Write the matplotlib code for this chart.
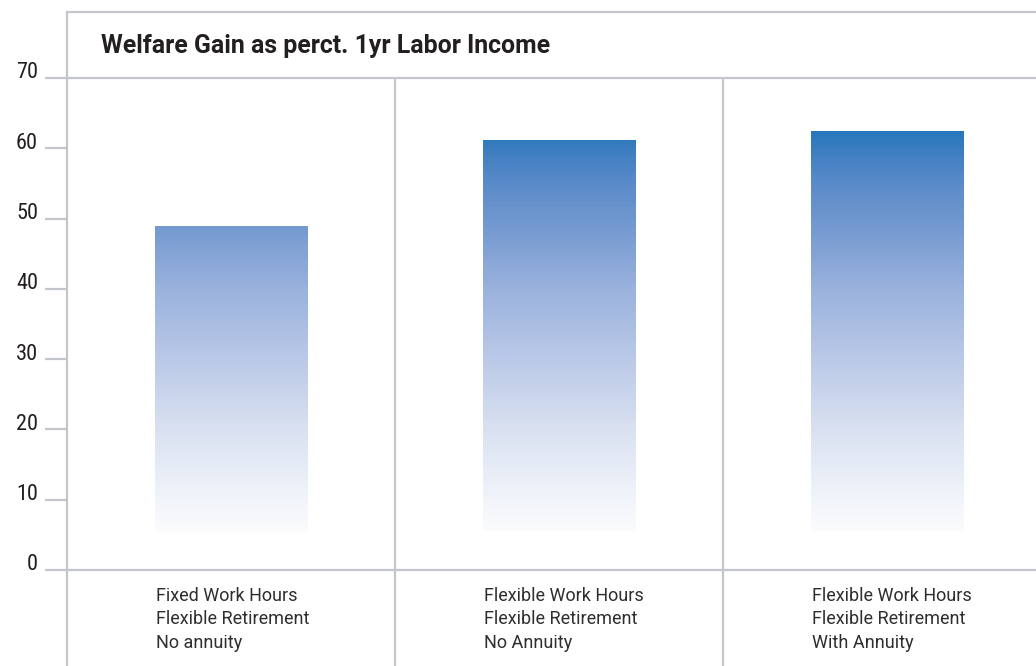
import matplotlib
matplotlib.use("Agg")
import matplotlib.pyplot as plt
import numpy as np
from matplotlib.colors import LinearSegmentedColormap
import matplotlib.transforms as mtransforms
from matplotlib import font_manager

# ---- data ----
categories = [
    "Fixed Work Hours\nFlexible Retirement\nNo annuity",
    "Flexible Work Hours\nFlexible Retirement\nNo Annuity",
    "Flexible Work Hours\nFlexible Retirement\nWith Annuity",
]
welfare_gain = [49.0, 61.2, 62.4]
y_ticks = [0, 10, 20, 30, 40, 50, 60, 70]
title = "Welfare Gain as perct. 1yr Labor Income"

# ---- fonts ----
avail = {f.name for f in font_manager.fontManager.ttflist}
narrow = "DejaVu Sans"
for cand in ["Roboto Condensed", "Fira Sans Condensed", "PT Sans Narrow",
             "Archivo Narrow", "Pragati Narrow", "Liberation Sans Narrow"]:
    if cand in avail:
        narrow = cand
        break
regular = "Roboto" if "Roboto" in avail else "DejaVu Sans"
plt.rcParams['font.family'] = [narrow, 'DejaVu Sans']

W, H = 1036, 666
fig = plt.figure(figsize=(W / 100, H / 100), dpi=100)
fig.patch.set_facecolor("white")

ax_left_px, ax_bottom_px, ax_top_px = 67, 570, 78
ax = fig.add_axes([ax_left_px / W, (H - ax_bottom_px) / H, 1 - ax_left_px / W,
                   (ax_bottom_px - ax_top_px) / H])
sec_px = 328.0
x_min = -0.5
x_max = x_min + (W - ax_left_px) / sec_px
ax.set_xlim(x_min, x_max)
ax.set_ylim(0, 70)
for s in ax.spines.values():
    s.set_visible(False)
ax.set_xticks([])
ax.set_yticks([])

px_per_unit = (ax_bottom_px - ax_top_px) / 70.0
y_top_border = (ax_bottom_px - 12) / px_per_unit
y_bottom_fig = (ax_bottom_px - H) / px_per_unit

line_c = "#c3c6ca"
lw = 1.6

# gradient colormap (fixed in data space)
vmax = 62.6
stops = [
    (0.0, "#ffffff"),
    (5.2, "#ffffff"),
    (5.6, "#fafbfd"),
    (10, "#f1f4fa"),
    (20, "#d9e1f1"),
    (30, "#bac9e7"),
    (40, "#9ab2dd"),
    (49, "#7399d0"),
    (55, "#5a8bc9"),
    (59, "#4380c2"),
    (62.6, "#2577bb"),
]
cmap = LinearSegmentedColormap.from_list("grad", [(v / vmax, c) for v, c in stops])

bar_w = 153 / sec_px
xs = np.arange(len(categories))
bars = ax.bar(xs, welfare_gain, width=bar_w, color="none", edgecolor="none", zorder=2)
for b, val in zip(bars, welfare_gain):
    x0 = b.get_x()
    yy = np.linspace(val, 0, 400).reshape(-1, 1)
    im = ax.imshow(yy, cmap=cmap, vmin=0, vmax=vmax, aspect="auto",
                   extent=[x0, x0 + b.get_width(), 0, val], zorder=2,
                   interpolation="bilinear")
    im.set_clip_path(b)
ax.set_xlim(x_min, x_max)
ax.set_ylim(0, 70)

# frame lines
ax.plot([-0.5, -0.5], [y_bottom_fig, y_top_border], color=line_c, lw=lw,
        clip_on=False, zorder=3, solid_capstyle="butt")
for xv in [0.5, 1.5, 2.5]:
    ax.plot([xv, xv], [y_bottom_fig, 70], color=line_c, lw=lw,
            clip_on=False, zorder=3, solid_capstyle="butt")
ax.plot([-0.5, x_max], [y_top_border, y_top_border], color=line_c, lw=lw,
        clip_on=False, zorder=3)

tick_len_data = 22 / sec_px
tr = mtransforms.offset_copy(ax.transData, fig=fig, x=0, y=5, units="dots")
for yv in y_ticks:
    x_start = -0.5 - tick_len_data
    x_end = x_max if yv in (0, 70) else -0.5
    ax.plot([x_start, x_end], [yv, yv], color=line_c, lw=lw, clip_on=False, zorder=3,
            solid_capstyle="butt")
    ax.text(-0.5 - (29 / sec_px), yv, str(yv), transform=tr, ha="right", va="center",
            fontsize=16, color="#231f20", clip_on=False)

# category labels (va='baseline' aligns the last line's baseline)
lab_y = (ax_bottom_px - 647.7) / px_per_unit
for x, lab, b in zip(xs, categories, bars):
    ax.text(b.get_x() + 2 / sec_px, lab_y, lab, ha="left", va="baseline", fontsize=13,
            family=[regular, 'DejaVu Sans'], color="#2e2e2e", linespacing=1.38,
            clip_on=False)

fig.text(101 / W, 1 - 53.3 / H, title, ha="left", va="baseline", fontsize=17.9,
         fontweight="bold", family=[regular, 'DejaVu Sans'], color="#231f20")

fig.savefig("out.png", dpi=100, facecolor="white")
